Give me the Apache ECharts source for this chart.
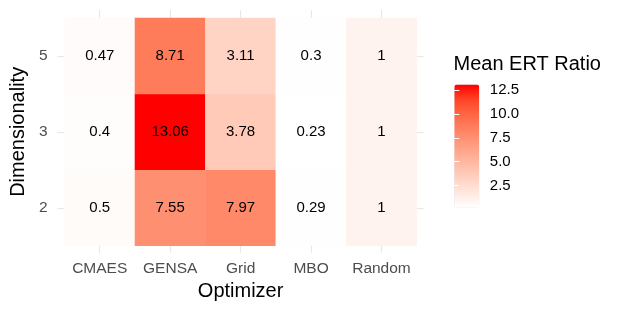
<!DOCTYPE html>
<html>
<head>
<meta charset="utf-8">
<script src="https://cdn.jsdelivr.net/npm/echarts@6/dist/echarts.min.js"></script>
<style>html,body{margin:0;padding:0;background:#fff}#c{width:623px;height:312px}</style>
</head>
<body>
<div id="c"></div>
<script>
const optimizers = ['CMAES', 'GENSA', 'Grid', 'MBO', 'Random'];
const dims = ['2', '3', '5'];
// values per optimizer, ordered as dims (2, 3, 5)
const cmaes = [0.5, 0.4, 0.47];
const gensa = [7.55, 13.06, 8.71];
const grid = [7.97, 3.78, 3.11];
const mbo = [0.29, 0.23, 0.3];
const random = [1, 1, 1];
const legendTicks = [2.5, 5.0, 7.5, 10.0, 12.5];

const series = [cmaes, gensa, grid, mbo, random];
const data = [];
series.forEach((vals, i) => vals.forEach((v, j) => data.push([i, j, v])));
const all = data.map(d => d[2]);
const vmin = Math.min(...all), vmax = Math.max(...all);

const FONT = 'Liberation Sans';
const gridColor = '#e8e8e8';
const chart = echarts.init(document.getElementById('c'), null, {renderer: 'canvas'});
chart.setOption({
  animation: false,
  backgroundColor: '#ffffff',
  textStyle: {fontFamily: FONT},
  title: {
    text: 'Mean ERT Ratio', left: 453.5, top: 54, padding: 0,
    textStyle: {fontFamily: FONT, fontSize: 20, fontWeight: 'normal', color: '#000'}
  },
  grid: [
    {left: 59, top: 18, width: 357.7, height: 227.7},
    {left: 454.3, top: 84.6, width: 25, height: 122.8}
  ],
  xAxis: [
    {
      type: 'category', data: optimizers, gridIndex: 0, position: 'bottom',
      name: 'Optimizer', nameLocation: 'middle', nameGap: 32,
      nameTextStyle: {fontFamily: FONT, fontSize: 20, color: '#000'},
      axisLine: {show: false},
      axisTick: {show: true, alignWithLabel: true, interval: 0, length: 7, lineStyle: {color: gridColor, width: 1.2}},
      axisLabel: {interval: 0, hideOverlap: false, margin: 15, fontFamily: FONT, fontSize: 15.5, color: '#4d4d4d'},
      splitLine: {show: false}
    },
    {
      type: 'category', data: optimizers, gridIndex: 0, position: 'top',
      axisLine: {show: false},
      axisTick: {show: true, alignWithLabel: true, interval: 0, length: 8, lineStyle: {color: gridColor, width: 1.2}},
      axisLabel: {show: false, interval: 0}, splitLine: {show: false}
    },
    {type: 'value', gridIndex: 1, show: false, min: 0, max: 1}
  ],
  yAxis: [
    {
      type: 'category', data: dims, gridIndex: 0, position: 'left',
      name: 'Dimensionality', nameLocation: 'middle', nameGap: 31, nameRotate: 90,
      nameTextStyle: {fontFamily: FONT, fontSize: 20, color: '#000'},
      axisLine: {show: false},
      axisTick: {show: true, alignWithLabel: true, interval: 0, length: 7, lineStyle: {color: gridColor, width: 1.2}},
      axisLabel: {interval: 0, margin: 17, fontFamily: FONT, fontSize: 15.5, color: '#4d4d4d'},
      splitLine: {show: false}
    },
    {
      type: 'category', data: dims, gridIndex: 0, position: 'right',
      axisLine: {show: false},
      axisTick: {show: true, alignWithLabel: true, interval: 0, length: 7, lineStyle: {color: gridColor, width: 1.2}},
      axisLabel: {show: false, interval: 0}, splitLine: {show: false}
    },
    {
      type: 'value', gridIndex: 1, position: 'right', min: vmin, max: vmax, z: 10,
      axisLine: {show: false}, splitLine: {show: false},
      axisTick: {show: true, inside: true, length: 5, customValues: legendTicks, lineStyle: {color: '#fff', width: 1}},
      axisLabel: {show: true, margin: 10.5, customValues: legendTicks, fontFamily: FONT, fontSize: 15, color: '#000',
        formatter: v => v.toFixed(1)}
    },
    {
      type: 'value', gridIndex: 1, position: 'left', min: vmin, max: vmax, z: 10,
      axisLine: {show: false}, splitLine: {show: false},
      axisTick: {show: true, inside: true, length: 5, customValues: legendTicks, lineStyle: {color: '#fff', width: 1}},
      axisLabel: {show: false}
    }
  ],
  visualMap: {
    type: 'continuous', min: vmin, max: vmax, dimension: 2, seriesIndex: 0,
    calculable: false, realtime: false, orient: 'vertical',
    left: 454.3, top: 84.6, itemWidth: 25, itemHeight: 122.8, padding: 0,
    text: null, showLabel: false, hoverLink: false,
    inRange: {color: ['#ffffff', '#ffe7de', '#ffcfbf', '#ffb7a0', '#ff9e81', '#ff8464', '#ff6846', '#ff4628', '#ff0000']}
  },
  series: [{
    type: 'heatmap', xAxisIndex: 0, yAxisIndex: 0, data: data,
    label: {show: true, formatter: p => String(p.value[2]), fontFamily: FONT, fontSize: 15, color: '#000', textBorderWidth: 0},
    itemStyle: {borderWidth: 0},
    emphasis: {disabled: true}
  }]
});
</script>
</body>
</html>
